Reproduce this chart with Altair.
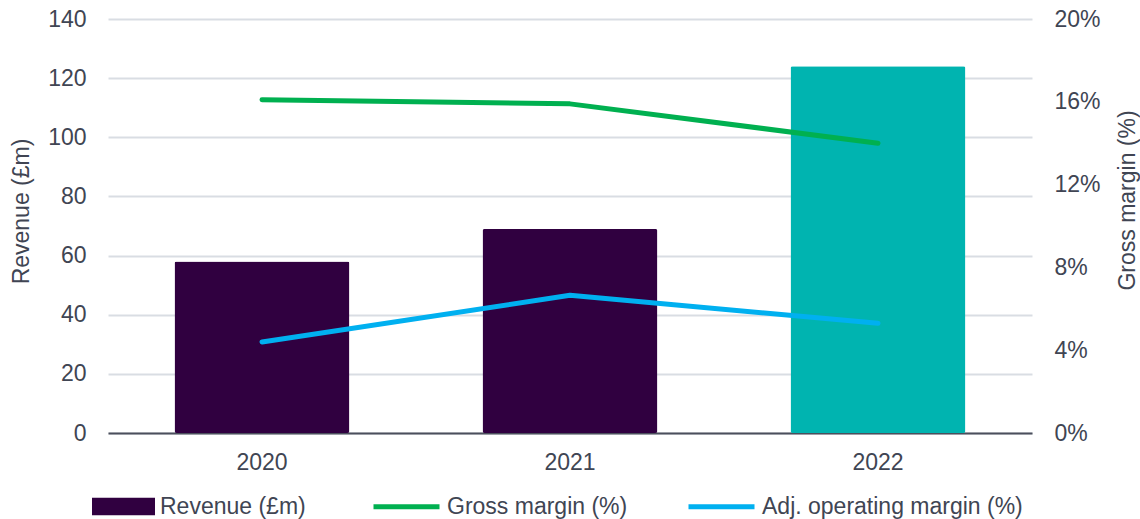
import altair as alt
import pandas as pd

years = ["2020", "2021", "2022"]
revenue = [58, 69, 124]
gross_margin = [0.161, 0.159, 0.140]
adj_operating_margin = [0.044, 0.0665, 0.053]

rev_label = "Revenue (£m)"
gm_label = "Gross margin (%)"
adj_label = "Adj. operating margin (%)"

left_ticks = [0, 20, 40, 60, 80, 100, 120, 140]
right_ticks = [0, 0.04, 0.08, 0.12, 0.16, 0.20]

PURPLE = "#300040"
TEAL = "#00B4B0"
GREEN = "#00B050"
BLUE = "#00B0F0"
TEXT = "#404553"
GRID = "#D9DDE3"
FONT = "Liberation Sans"

df_bar = pd.DataFrame({"year": years, "revenue": revenue, "label": [rev_label] * len(years)})
df_line = pd.DataFrame({
    "year": years * 2,
    "series": [gm_label] * 3 + [adj_label] * 3,
    "value": gross_margin + adj_operating_margin,
})

x_enc = alt.X(
    "year:N",
    scale=alt.Scale(paddingInner=0.432, paddingOuter=0.216),
    axis=alt.Axis(title=None, labelAngle=0, labelFont=FONT, labelFontSize=23, labelColor=TEXT,
                  labelPadding=18, ticks=False, domain=True, domainColor="#4B4F5C", domainWidth=2,
                  grid=False),
)

bars = alt.Chart(df_bar).mark_bar(cornerRadius=2).encode(
    x=x_enc,
    y=alt.Y("revenue:Q", scale=alt.Scale(domain=[0, 140]),
            axis=alt.Axis(title=rev_label, values=left_ticks, grid=True, gridColor=GRID, gridWidth=2,
                          domain=False, ticks=False, labelFont=FONT, labelFontSize=23, labelColor=TEXT,
                          labelPadding=22, titleFont=FONT, titleFontSize=23, titleFontWeight="normal",
                          titleColor=TEXT, titlePadding=14, titleY=192)),
    fill=alt.condition(
        alt.datum.year == "2022",
        alt.value(TEAL),
        alt.Fill("label:N", scale=alt.Scale(domain=[rev_label], range=[PURPLE]),
                 legend=alt.Legend(title=None, orient="none", legendX=-16, legendY=456,
                                   symbolType="M-1,-0.28H1V0.28H-1Z", symbolSize=3969,
                                   symbolStrokeWidth=0, symbolOpacity=1,
                                   labelFont=FONT, labelFontSize=23, labelColor=TEXT, labelOffset=5,
                                   labelLimit=400)),
    ),
)

lines = alt.Chart(df_line).mark_line(strokeWidth=5, strokeCap="round", strokeJoin="round").encode(
    x=alt.X("year:N"),
    y=alt.Y("value:Q", scale=alt.Scale(domain=[0, 0.2]),
            axis=alt.Axis(orient="right", title=gm_label, values=right_ticks, format=".0%", grid=False,
                          domain=False, ticks=False, labelFont=FONT, labelFontSize=23, labelColor=TEXT,
                          labelPadding=22, titleFont=FONT, titleFontSize=23, titleFontWeight="normal",
                          titleColor=TEXT, titlePadding=16, titleAngle=270, titleBaseline="top",
                          titleY=181)),
    stroke=alt.Stroke("series:N", scale=alt.Scale(domain=[gm_label, adj_label], range=[GREEN, BLUE]),
                      legend=alt.Legend(title=None, orient="none", legendX=263, legendY=452,
                                        direction="horizontal", symbolType="stroke", symbolSize=4356,
                                        symbolStrokeWidth=5, columnPadding=50,
                                        labelFont=FONT, labelFontSize=23, labelColor=TEXT, labelOffset=5,
                                        labelLimit=400)),
)

chart = alt.layer(bars, lines).resolve_scale(y="independent", fill="independent", stroke="independent").properties(
    width=924,
    height=414,
    padding={"left": 108, "top": 19, "right": 108, "bottom": 86},
    autosize=alt.AutoSizeParams(type="none"),
).configure(background="white").configure_view(strokeWidth=0)

chart.save("out.html", embed_options={"renderer": "svg", "actions": False})
